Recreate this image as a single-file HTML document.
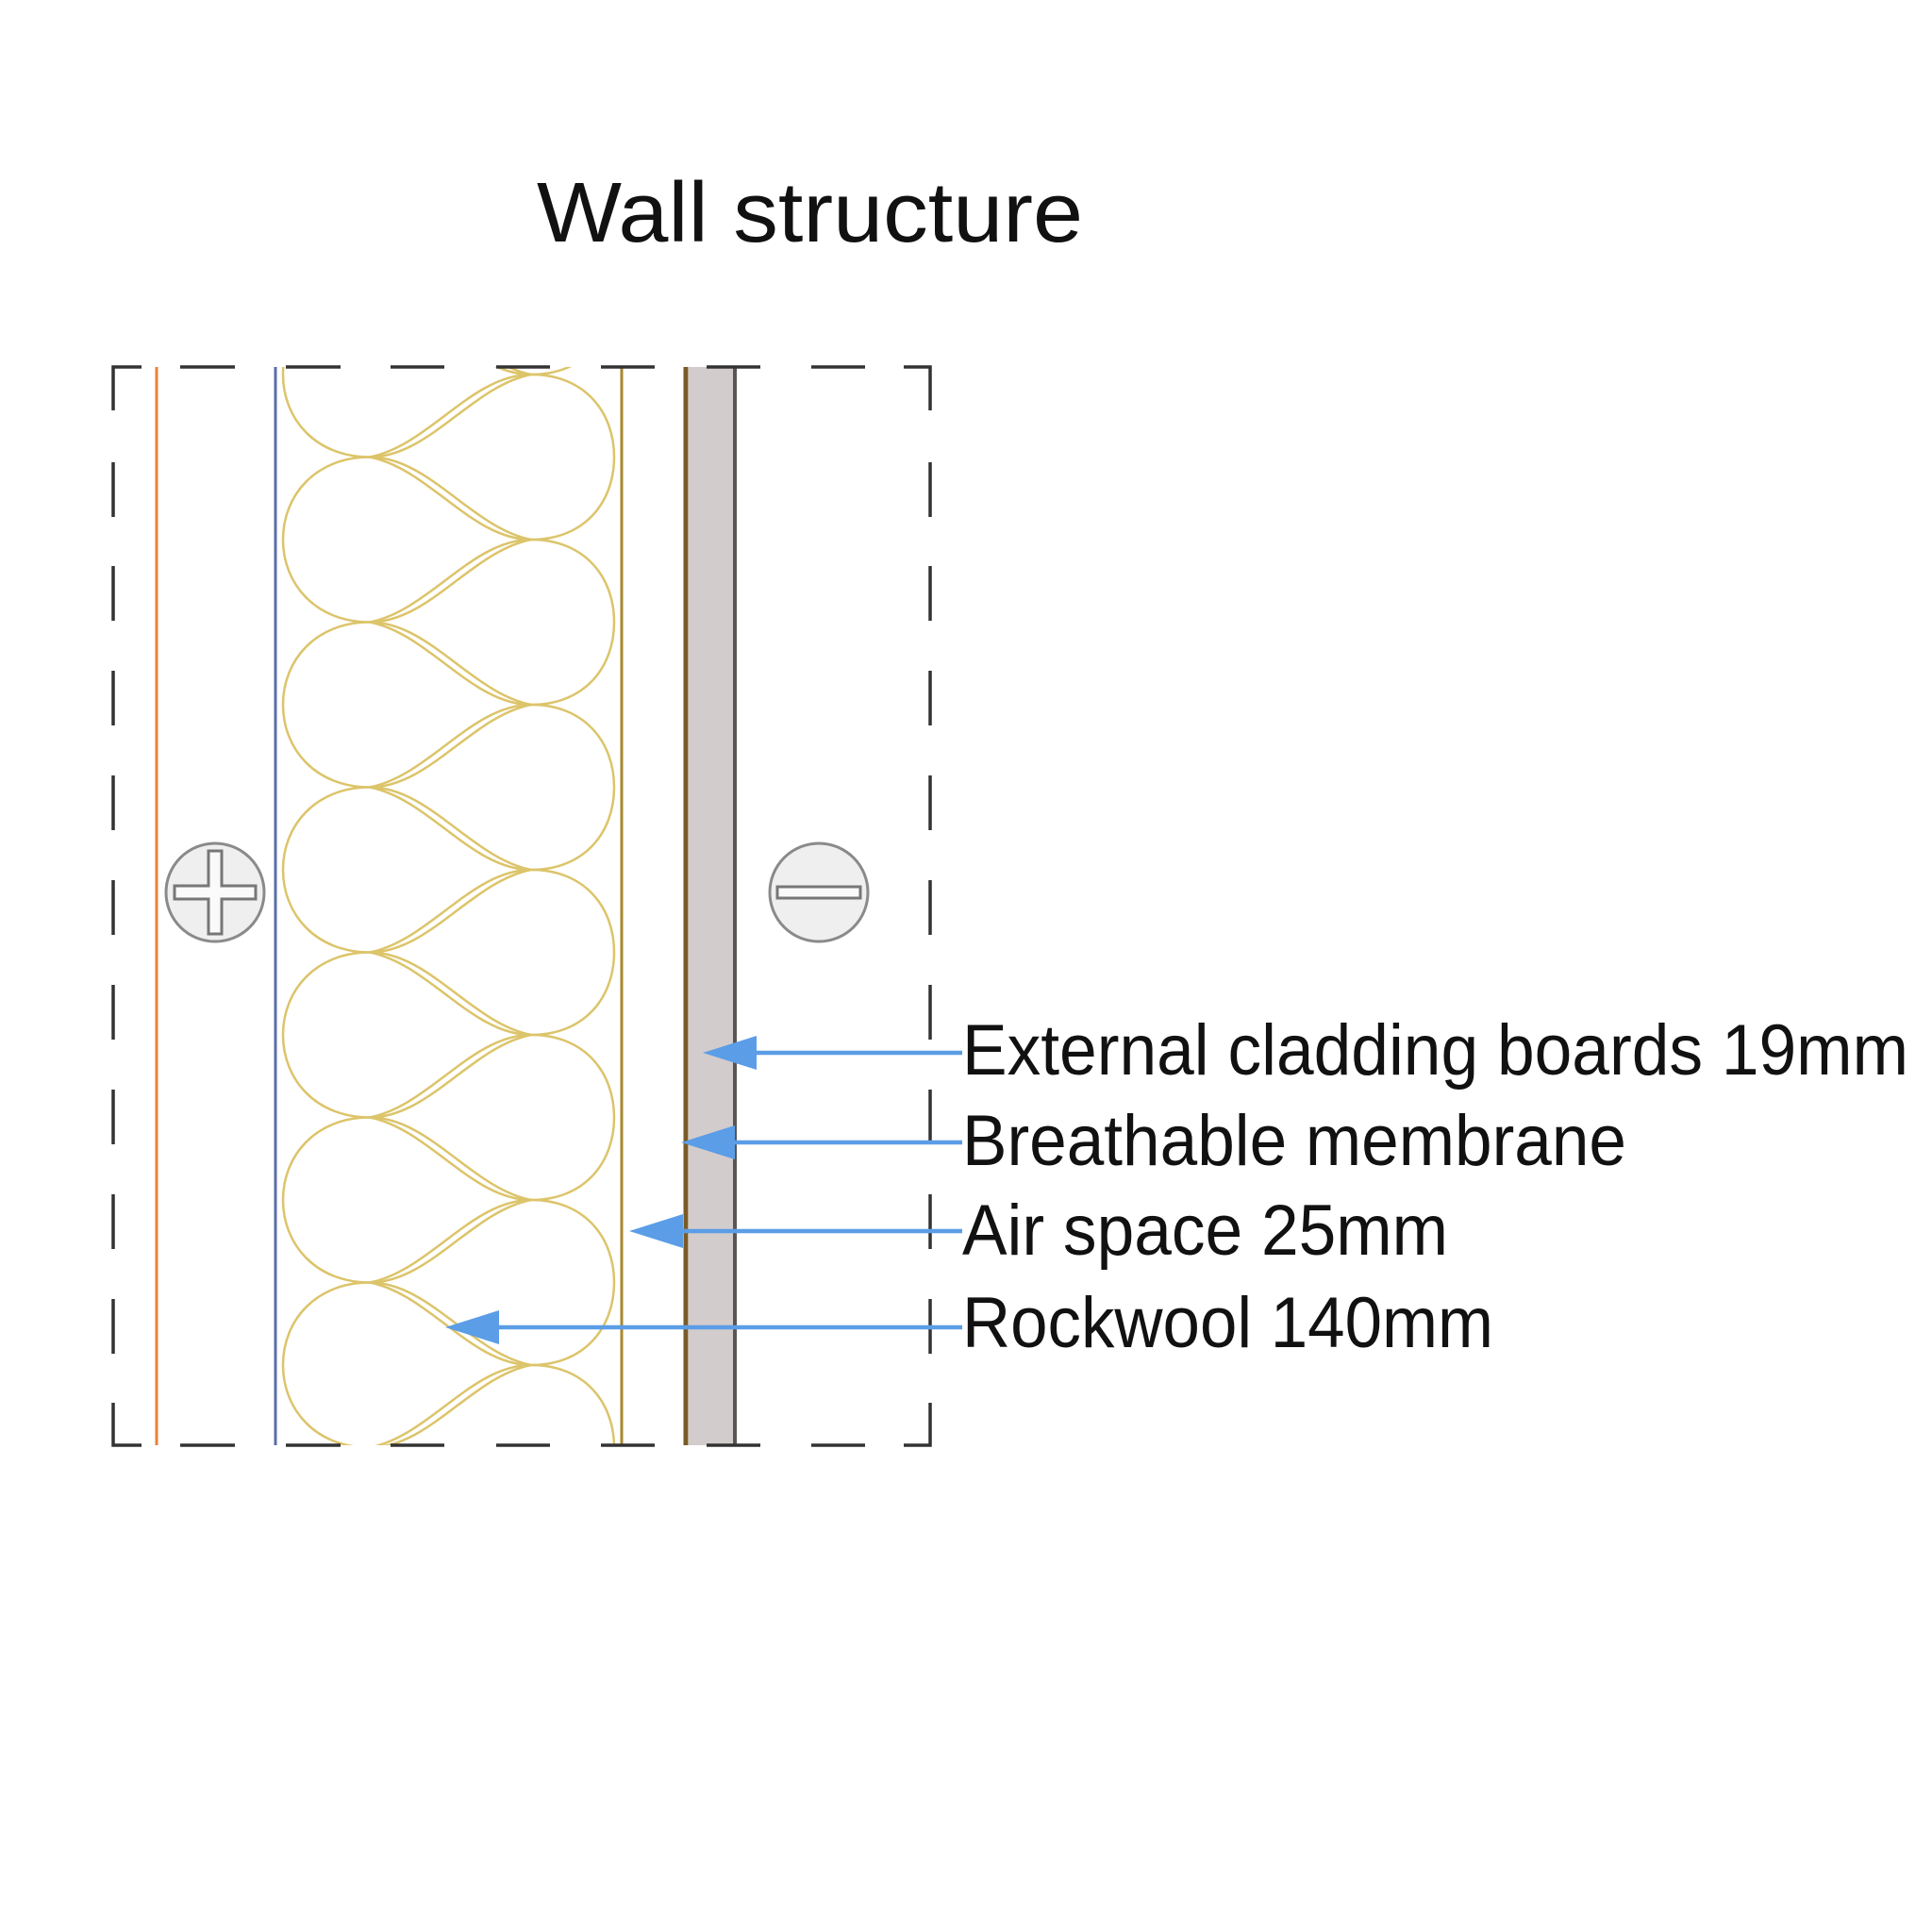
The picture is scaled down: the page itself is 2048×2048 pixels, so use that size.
<!DOCTYPE html>
<html><head><meta charset="utf-8"><style>html,body{margin:0;padding:0;background:#fff}svg{display:block}</style></head>
<body>
<svg width="2048" height="2048" viewBox="0 0 2048 2048" xmlns="http://www.w3.org/2000/svg">
<rect width="2048" height="2048" fill="#fff"/>
<text x="569" y="256" font-family="Liberation Sans, sans-serif" font-size="90" fill="#111" textLength="579" lengthAdjust="spacingAndGlyphs">Wall structure</text>
<defs><clipPath id="c"><rect x="290" y="389" width="370" height="1143"/></clipPath></defs>
<rect x="730" y="389" width="49" height="1143" fill="#d3cccc"/>
<line x1="727" y1="389" x2="727" y2="1532" stroke="#7a5a26" stroke-width="5"/>
<line x1="779" y1="389" x2="779" y2="1532" stroke="#5a5550" stroke-width="4"/>
<line x1="659" y1="389" x2="659" y2="1532" stroke="#a8892e" stroke-width="3"/>
<line x1="166" y1="389" x2="166" y2="1532" stroke="#e8823c" stroke-width="3"/>
<line x1="292" y1="389" x2="292" y2="1532" stroke="#5a6ea8" stroke-width="3"/>
<g clip-path="url(#c)" fill="none" stroke="#dcc46a" stroke-width="2.5">
<path id="L" d="M392,0 C335,0 300,40 300,87.5 C300,135 335,175 392,175 C455,175 500,100 563,87.5 C500,75 455,0 392,0 Z"/>
<path id="R" d="M563,0 C620,0 651,40 651,87.5 C651,135 620,175 563,175 C500,175 455,100 392,87.5 C455,75 500,0 563,0 Z"/>
</g>
<g clip-path="url(#c)" fill="none" stroke="#dcc46a" stroke-width="2.5">
<use href="#R" y="222"/><use href="#R" y="397"/><use href="#R" y="572"/><use href="#R" y="747"/><use href="#R" y="922"/><use href="#R" y="1097"/><use href="#R" y="1272"/><use href="#R" y="1447"/>
<use href="#L" y="309.5"/><use href="#L" y="484.5"/><use href="#L" y="659.5"/><use href="#L" y="834.5"/><use href="#L" y="1009.5"/><use href="#L" y="1184.5"/><use href="#L" y="1359.5"/>
</g>
<g stroke="#333" stroke-width="3.5" fill="none">
<path d="M120,435 V389 H150 M958,389 H986 V435 M120,1487 V1532 H150 M958,1532 H986 V1487"/>
<path d="M191,389 H249 M303,389 H361 M414,389 H471 M526,389 H583 M637,389 H694 M749,389 H806 M860,389 H917"/>
<path d="M191,1532 H249 M303,1532 H361 M414,1532 H471 M526,1532 H583 M637,1532 H694 M749,1532 H806 M860,1532 H917"/>
<path d="M120,490 V548 M120,600 V658 M120,711 V769 M120,822 V880 M120,933 V991 M120,1044 V1102 M120,1155 V1213 M120,1266 V1324 M120,1377 V1435"/>
<path d="M986,490 V548 M986,600 V658 M986,711 V769 M986,822 V880 M986,933 V991 M986,1044 V1102 M986,1155 V1213 M986,1266 V1324 M986,1377 V1435"/>
</g>
<circle cx="228" cy="946" r="52" fill="#efefef" stroke="#8a8a8a" stroke-width="3"/>
<path d="M221,902 H235 V939 H271 V953 H235 V990 H221 V953 H185 V939 H221 Z" fill="#fafafa" stroke="#777" stroke-width="3"/>
<circle cx="868" cy="946" r="52" fill="#efefef" stroke="#8a8a8a" stroke-width="3"/>
<rect x="824" y="940" width="88" height="12" fill="#fafafa" stroke="#777" stroke-width="3"/>
<g stroke="#5b9de6" stroke-width="4.5">
<line x1="790" y1="1116" x2="1020" y2="1116"/>
<line x1="770" y1="1211" x2="1020" y2="1211"/>
<line x1="715" y1="1305" x2="1020" y2="1305"/>
<line x1="520" y1="1407" x2="1020" y2="1407"/>
</g>
<g fill="#5b9de6">
<polygon points="745,1116 802,1098 802,1134"/>
<polygon points="722,1211 779,1193 779,1229"/>
<polygon points="667,1305 724,1287 724,1323"/>
<polygon points="472,1407 529,1389 529,1425"/>
</g>
<g font-family="Liberation Sans, sans-serif" font-size="76" fill="#111">
<text x="1020" y="1139" textLength="1003" lengthAdjust="spacingAndGlyphs">External cladding boards 19mm</text>
<text x="1020" y="1235" textLength="704" lengthAdjust="spacingAndGlyphs">Breathable membrane</text>
<text x="1020" y="1330" textLength="515" lengthAdjust="spacingAndGlyphs">Air space 25mm</text>
<text x="1020" y="1428" textLength="563" lengthAdjust="spacingAndGlyphs">Rockwool 140mm</text>
</g>
</svg>
</body></html>
